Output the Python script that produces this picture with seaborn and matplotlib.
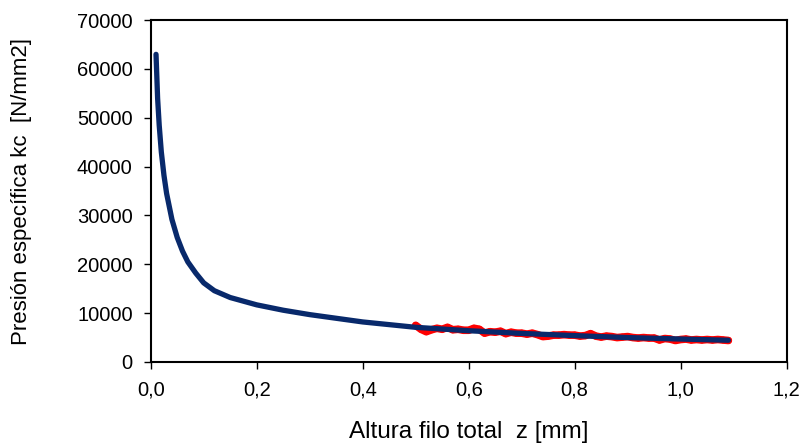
import pandas as pd
import numpy as np
import matplotlib
matplotlib.use("Agg")
import matplotlib.pyplot as plt
import seaborn as sns

# measured data (red) - noisy readings between z = 0.50 and 1.09
z_meas = [0.50, 0.51, 0.52, 0.53, 0.54, 0.55, 0.56, 0.57, 0.58, 0.59,
          0.60, 0.61, 0.62, 0.63, 0.64, 0.65, 0.66, 0.67, 0.68, 0.69,
          0.70, 0.71, 0.72, 0.73, 0.74, 0.75, 0.76, 0.77, 0.78, 0.79,
          0.80, 0.81, 0.82, 0.83, 0.84, 0.85, 0.86, 0.87, 0.88, 0.89,
          0.90, 0.91, 0.92, 0.93, 0.94, 0.95, 0.96, 0.97, 0.98, 0.99,
          1.00, 1.01, 1.02, 1.03, 1.04, 1.05, 1.06, 1.07, 1.08, 1.09]
kc_meas = [7500, 6700, 6200, 6600, 6900, 6700, 7100, 6600, 6700, 6500,
           6500, 6900, 6700, 5900, 6200, 6100, 6300, 5800, 6100, 5900,
           5900, 5700, 5900, 5600, 5200, 5300, 5500, 5500, 5600, 5500,
           5500, 5300, 5400, 5800, 5300, 5100, 5300, 5200, 5000, 5100,
           5200, 5000, 4900, 5000, 4900, 4900, 4500, 4800, 4700, 4400,
           4600, 4700, 4500, 4600, 4500, 4600, 4500, 4600, 4500, 4400]

# fitted curve (dark blue)
z_fit = [0.01, 0.013, 0.016, 0.02, 0.025, 0.03, 0.04, 0.05, 0.06, 0.07,
         0.085, 0.1, 0.12, 0.15, 0.2, 0.25, 0.3, 0.4, 0.5, 0.6,
         0.7, 0.8, 0.9, 1.0, 1.09]
kc_fit = [63000, 54000, 48500, 43000, 38200, 34500, 29200, 25500, 22700, 20500,
          18200, 16200, 14600, 13200, 11700, 10600, 9700, 8200, 7100, 6400,
          5850, 5400, 5000, 4700, 4450]

x_ticks = [0.0, 0.2, 0.4, 0.6, 0.8, 1.0, 1.2]
y_ticks = [0, 10000, 20000, 30000, 40000, 50000, 60000, 70000]

meas = pd.DataFrame({"z": z_meas, "kc": kc_meas})
fit = pd.DataFrame({"z": z_fit, "kc": kc_fit})

sns.set_theme(style="white")
plt.rcParams["font.family"] = ["Liberation Sans", "DejaVu Sans"]

fig = plt.figure(figsize=(8.06, 4.48), dpi=100)
ax = fig.add_axes([0.187, 0.192, 0.789, 0.763])

sns.lineplot(data=meas, x="z", y="kc", color="#ff0000", lw=5.5, sort=False, ax=ax)
sns.scatterplot(data=meas, x="z", y="kc", color="#ff0000", s=25, edgecolor="none", ax=ax)
sns.lineplot(data=fit, x="z", y="kc", color="#08296b", lw=3.8, sort=False, ax=ax,
             solid_capstyle="round")

ax.set_xlim(0, 1.2)
ax.set_ylim(0, 70000)
ax.set_xticks(x_ticks)
ax.set_yticks(y_ticks)
ax.set_xticklabels([f"{v:.1f}".replace(".", ",") for v in x_ticks], fontsize=14.5)
ax.set_yticklabels([str(v) for v in y_ticks], fontsize=14.5)
ax.tick_params(axis="both", direction="out", length=5, width=1, colors="black",
               bottom=True, left=True)
ax.tick_params(axis="x", pad=8)
ax.tick_params(axis="y", pad=8)

for sp in ax.spines.values():
    sp.set_visible(True)
    sp.set_color("black")
    sp.set_linewidth(1.5)

ax.set_xlabel("Altura filo total  z [mm]", fontsize=17.5, color="black")
ax.set_ylabel("Presión específica kc  [N/mm2]", fontsize=16, color="black")
ax.xaxis.set_label_coords(0.5, -0.172)
ax.yaxis.set_label_coords(-0.187, 0.5)

fig.savefig("out.png", dpi=100)
